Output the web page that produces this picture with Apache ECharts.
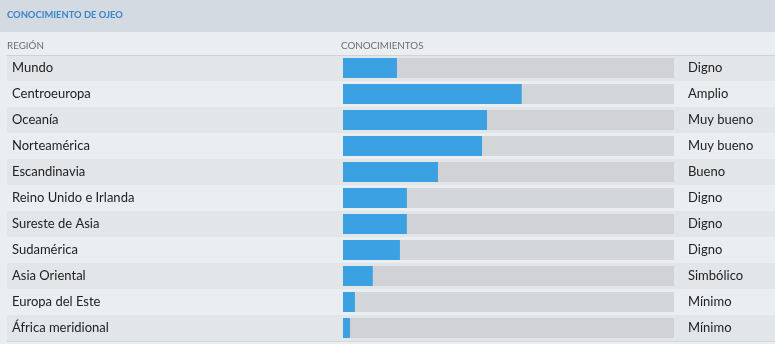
<!DOCTYPE html>
<html>
<head>
<meta charset="utf-8">
<script src="https://cdn.jsdelivr.net/npm/echarts@6/dist/echarts.min.js"></script>
<style>
html,body{margin:0;padding:0;background:#ebeef1;}
#chart{width:775px;height:344px;}
</style>
</head>
<body>
<div id="chart"></div>
<script>
const regions = ['Mundo','Centroeuropa','Oceanía','Norteamérica','Escandinavia','Reino Unido e Irlanda','Sureste de Asia','Sudamérica','Asia Oriental','Europa del Este','África meridional'];
const knowledge = [16.3, 54, 43.5, 42, 28.7, 19.3, 19.3, 17.2, 9, 3.6, 2.1];
const ratings = ['Digno','Amplio','Muy bueno','Muy bueno','Bueno','Digno','Digno','Digno','Simbólico','Mínimo','Mínimo'];
const titleText = 'CONOCIMIENTO DE OJEO';
const colRegion = 'REGIÓN';
const colKnowledge = 'CONOCIMIENTOS';

const FONT = 'Lato, "Open Sans", sans-serif';
const chart = echarts.init(document.getElementById('chart'), null, {renderer: 'canvas'});
chart.setOption({
  backgroundColor: '#ebeef1',
  animation: false,
  graphic: [
    {type: 'rect', left: 0, top: 0, shape: {width: 775, height: 32}, style: {fill: '#d4dae1'}, z: -1},
    {type: 'text', left: 7, top: 10, style: {text: titleText, fill: '#3a84c8', font: 'bold 9.4px ' + FONT}},
    {type: 'text', left: 7, top: 41, style: {text: colRegion, fill: '#6e6e6e', font: '9.8px ' + FONT}},
    {type: 'text', left: 341, top: 41, style: {text: colKnowledge, fill: '#6e6e6e', font: '9.8px ' + FONT}}
  ],
  grid: [
    {left: 7, right: 0, top: 55, bottom: 3},
    {left: 343, right: 101, top: 55, bottom: 3}
  ],
  xAxis: [
    {gridIndex: 0, type: 'value', min: 0, max: 1, position: 'top',
     axisLine: {show: true, lineStyle: {color: '#cdd3d9', width: 1}},
     axisTick: {show: false}, axisLabel: {show: false}, splitLine: {show: false}},
    {gridIndex: 0, type: 'value', min: 0, max: 1, position: 'bottom',
     axisLine: {show: true, lineStyle: {color: '#d2d8e0', width: 1}},
     axisTick: {show: false}, axisLabel: {show: false}, splitLine: {show: false}},
    {gridIndex: 1, type: 'value', min: 0, max: 100, show: false}
  ],
  yAxis: [
    {gridIndex: 0, type: 'category', inverse: true, data: regions,
     axisLine: {show: false}, axisTick: {show: false},
     axisLabel: {inside: true, margin: 5, color: '#222', fontSize: 13, fontFamily: FONT},
     splitArea: {show: true, areaStyle: {color: ['#e3e6e9', 'rgba(0,0,0,0)']}}},
    {gridIndex: 1, type: 'category', inverse: true, data: regions, show: false},
    {gridIndex: 1, type: 'category', inverse: true, data: regions, position: 'right',
     axisLine: {show: false}, axisTick: {show: false},
     axisLabel: {margin: 14, align: 'left', color: '#222', fontSize: 13, fontFamily: FONT,
       formatter: (v, i) => ratings[i]}}
  ],
  series: [{
    type: 'bar', xAxisIndex: 2, yAxisIndex: 1, data: knowledge, barWidth: 20,
    itemStyle: {color: '#3ca1e3'},
    showBackground: true,
    backgroundStyle: {color: 'rgba(185,186,190,0.45)'}
  }]
});
</script>
</body>
</html>
